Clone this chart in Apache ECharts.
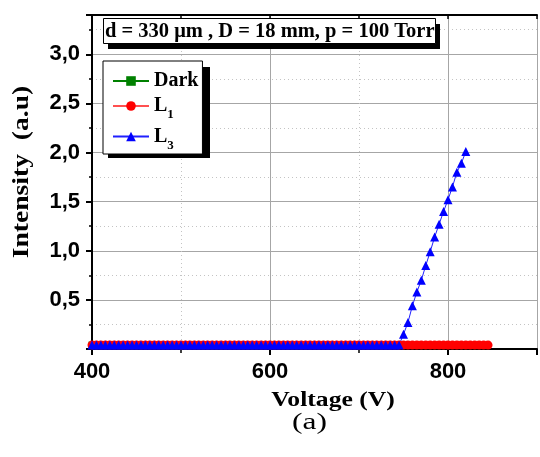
<!DOCTYPE html>
<html>
<head>
<meta charset="utf-8">
<script src="https://cdn.jsdelivr.net/npm/echarts@6/dist/echarts.min.js"></script>
<style>html,body{margin:0;padding:0;background:#fff}#c{width:540px;height:457px}</style>
</head>
<body>
<div id="c"></div>
<script>
// ---- data ----
const voltages = [400,405,410,415,420,425,430,435,440,445,450,455,460,465,470,475,480,485,490,495,
  500,505,510,515,520,525,530,535,540,545,550,555,560,565,570,575,580,585,590,595,
  600,605,610,615,620,625,630,635,640,645,650,655,660,665,670,675,680,685,690,695,
  700,705,710,715,720,725,730,735,740,745,750,755,760,765,770,775,780,785,790,795,
  800,805,810,815,820,825,830,835,840,845];
const seriesNames = ['Dark','L1','L3'];
const darkValues = [0.04,0.04,0.04,0.04,0.04,0.04,0.04,0.04,0.04,0.04,0.04,0.04,0.04,0.04,0.04,0.04,0.04,0.04,0.04,0.04,
  0.04,0.04,0.04,0.04,0.04,0.04,0.04,0.04,0.04,0.04,0.04,0.04,0.04,0.04,0.04,0.04,0.04,0.04,0.04,0.04,
  0.04,0.04,0.04,0.04,0.04,0.04,0.04,0.04,0.04,0.04,0.04,0.04,0.04,0.04,0.04,0.04,0.04,0.04,0.04,0.04,
  0.04,0.04,0.04,0.04,0.04,0.04,0.04,0.04,0.04,0.04];
const l1Values = [0.04,0.04,0.04,0.04,0.04,0.04,0.04,0.04,0.04,0.04,0.04,0.04,0.04,0.04,0.04,0.04,0.04,0.04,0.04,0.04,
  0.04,0.04,0.04,0.04,0.04,0.04,0.04,0.04,0.04,0.04,0.04,0.04,0.04,0.04,0.04,0.04,0.04,0.04,0.04,0.04,
  0.04,0.04,0.04,0.04,0.04,0.04,0.04,0.04,0.04,0.04,0.04,0.04,0.04,0.04,0.04,0.04,0.04,0.04,0.04,0.04,
  0.04,0.04,0.04,0.04,0.04,0.04,0.04,0.04,0.04,0.04,0.04,0.04,0.04,0.04,0.04,0.04,0.04,0.04,0.04,0.04,
  0.04,0.04,0.04,0.04,0.04,0.04,0.04,0.04,0.04,0.04];
const l3Values = [0.04,0.04,0.04,0.04,0.04,0.04,0.04,0.04,0.04,0.04,0.04,0.04,0.04,0.04,0.04,0.04,0.04,0.04,0.04,0.04,
  0.04,0.04,0.04,0.04,0.04,0.04,0.04,0.04,0.04,0.04,0.04,0.04,0.04,0.04,0.04,0.04,0.04,0.04,0.04,0.04,
  0.04,0.04,0.04,0.04,0.04,0.04,0.04,0.04,0.04,0.04,0.04,0.04,0.04,0.04,0.04,0.04,0.04,0.04,0.04,0.04,
  0.04,0.04,0.04,0.04,0.04,0.04,0.04,0.04,0.04,0.04,0.15,0.27,0.44,0.58,0.70,0.85,0.99,1.14,1.27,1.40,
  1.52,1.65,1.80,1.89,2.01];
const xTickLabels = [400,600,800];
const yTickLabels = [0.5,1.0,1.5,2.0,2.5,3.0];
const titleText = 'd = 330 \u03bcm , D = 18 mm, p = 100 Torr';
const xName = 'Voltage (V)';
const yName = 'Intensity  (a.u)';
const panelLabel = '(a)';

// ---- chart ----
const serif = '"Liberation Serif", "DejaVu Serif", serif';
const sans = '"Liberation Sans", Arial, sans-serif';
const pair = vals => vals.map((v, i) => [voltages[i], v]);
const isIn = (list, v) => list.some(t => Math.abs(t - v) < 1e-6);

const chart = echarts.init(document.getElementById('c'), null, {renderer: 'canvas'});
const minorGrid = {show: true, lineStyle: {color: '#c4c4c4', width: 1, type: [1, 3]}};
const majorGrid = {show: true, lineStyle: {color: '#a6a6a6', width: 1}};

chart.setOption({
  animation: false,
  backgroundColor: '#fff',
  title: {
    text: titleText, left: 103, top: 18, padding: [3, 1, 2, 2],
    borderColor: '#000', borderWidth: 1, backgroundColor: '#fff',
    textStyle: {fontFamily: serif, fontWeight: 'bold', fontSize: 20.5, color: '#000'}
  },
  legend: {
    orient: 'vertical', left: 103, top: 61, padding: [10, 4, 2, 9],
    itemGap: 5, itemWidth: 36, itemHeight: 12,
    backgroundColor: '#fff', borderColor: '#000', borderWidth: 1,
    data: seriesNames,
    formatter: n => n === 'Dark' ? '{b|Dark}' : '{b|L}{sub|' + n.slice(1) + '}',
    textStyle: {
      color: '#000',
      rich: {
        b: {fontFamily: serif, fontWeight: 'bold', fontSize: 20, color: '#000'},
        sub: {fontFamily: serif, fontWeight: 'bold', fontSize: 13, color: '#000', padding: [18, 0, 0, 0]}
      }
    }
  },
  grid: {left: 92, right: -3, top: 15, bottom: 108, containLabel: false},
  xAxis: [
    {type: 'value', min: 400, max: 900, interval: 100, position: 'bottom',
     axisLine: {show: false}, axisLabel: {show: false},
     axisTick: {show: true, length: 4, lineStyle: {color: '#000', width: 1.5}},
     splitLine: minorGrid},
    {type: 'value', min: 400, max: 900, interval: 200, position: 'bottom',
     axisLine: {show: true, lineStyle: {color: '#000', width: 2}},
     axisTick: {show: true, length: 6, lineStyle: {color: '#000', width: 2}},
     axisLabel: {margin: 12, color: '#000', fontFamily: sans, fontWeight: 'bold', fontSize: 22,
       formatter: v => isIn(xTickLabels, v) ? String(v) : ''},
     splitLine: majorGrid},
    {type: 'value', min: 400, max: 900, interval: 100, position: 'top',
     axisLine: {show: true, lineStyle: {color: '#000', width: 2}},
     axisTick: {show: true, inside: true, length: 4, lineStyle: {color: '#000', width: 1.5}},
     axisLabel: {show: false}, splitLine: {show: false}}
  ],
  yAxis: [
    {type: 'value', min: 0, max: 3.4, interval: 0.25, position: 'left',
     axisLine: {show: false}, axisLabel: {show: false},
     axisTick: {show: true, length: 3, lineStyle: {color: '#000', width: 1.5}},
     splitLine: minorGrid},
    {type: 'value', min: 0, max: 3.4, interval: 0.5, position: 'left',
     axisLine: {show: true, lineStyle: {color: '#000', width: 2}},
     axisTick: {show: true, length: 6, lineStyle: {color: '#000', width: 2}},
     axisLabel: {margin: 12, color: '#000', fontFamily: sans, fontWeight: 'bold', fontSize: 22,
       formatter: v => isIn(yTickLabels, v) ? v.toFixed(1).replace('.', ',') : ''},
     splitLine: majorGrid}
  ],
  series: [
    {name: 'Dark', type: 'line', xAxisIndex: 1, yAxisIndex: 1, data: pair(darkValues),
     symbol: 'rect', symbolSize: 7, showAllSymbol: true,
     itemStyle: {color: '#008000'}, lineStyle: {color: '#008000', width: 1}},
    {name: 'L1', type: 'line', xAxisIndex: 1, yAxisIndex: 1, data: pair(l1Values),
     symbol: 'circle', symbolSize: 9, showAllSymbol: true,
     itemStyle: {color: '#ff0000'}, lineStyle: {color: '#ff5050', width: 1}},
    {name: 'L3', type: 'line', xAxisIndex: 1, yAxisIndex: 1, data: pair(l3Values),
     symbol: 'triangle', symbolSize: 9, showAllSymbol: true,
     itemStyle: {color: '#0000ff'}, lineStyle: {color: '#2020ff', width: 1}}
  ],
  graphic: [
    // drop shadows of the title box and legend box
    {type: 'rect', z: 3, shape: {x: 108, y: 24, width: 332, height: 25}, style: {fill: '#000'}},
    {type: 'rect', z: 3, shape: {x: 108, y: 67, width: 102, height: 91}, style: {fill: '#000'}},
    // axis titles and panel label
    {type: 'text', x: 333, y: 401, scaleX: 1.22, z: 5,
     style: {text: xName, fontFamily: serif, fontWeight: 'bold', fontSize: 21, fill: '#000',
             textAlign: 'center', textVerticalAlign: 'middle'}},
    {type: 'text', x: 22, y: 172, rotation: Math.PI / 2, scaleX: 1.15, z: 5,
     style: {text: yName, fontFamily: serif, fontWeight: 'bold', fontSize: 24, fill: '#000',
             textAlign: 'center', textVerticalAlign: 'middle'}},
    {type: 'text', x: 309.5, y: 423, scaleX: 1.37, z: 5,
     style: {text: panelLabel, fontFamily: serif, fontSize: 23, fill: '#000',
             textAlign: 'center', textVerticalAlign: 'middle'}}
  ]
});
</script>
</body>
</html>
